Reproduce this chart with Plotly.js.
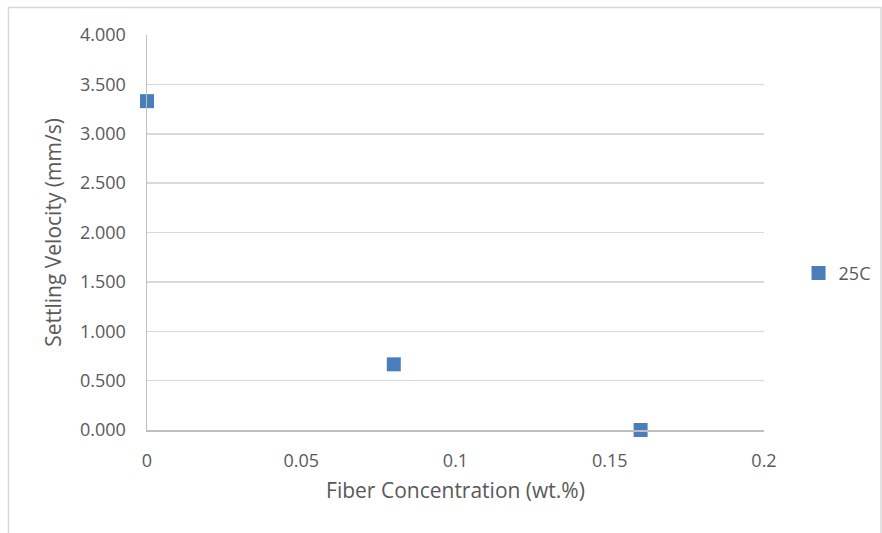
<!DOCTYPE html>
<html><head><meta charset="utf-8">
<script src="https://cdn.plot.ly/plotly-3.0.1.min.js"></script>
<style>html,body{margin:0;padding:0;background:#fff}</style>
</head><body>
<div id="chart" style="width:882px;height:533px"></div>
<script>
var fiberConcentration = [0, 0.08, 0.16];
var settlingVelocity = [3.33, 0.665, 0.0];
var seriesName = '25C';
var xTickVals = [0, 0.05, 0.1, 0.15, 0.2];
var yTickVals = [0, 0.5, 1.0, 1.5, 2.0, 2.5, 3.0, 3.5, 4.0];

var fontFam = 'Open Sans, sans-serif';
var txt = '#595959';
var trace = {
  x: fiberConcentration, y: settlingVelocity, name: seriesName,
  type: 'scatter', mode: 'markers', cliponaxis: false,
  marker: {symbol: 'square', size: 14, color: '#4a7ebb', line: {width: 0}}
};
var layout = {
  width: 882, height: 533,
  margin: {l: 147, r: 118, t: 35, b: 103, autoexpand: false},
  paper_bgcolor: '#fff', plot_bgcolor: '#fff',
  font: {family: fontFam, color: txt, size: 18},
  showlegend: true,
  legend: {x: 1.056, y: 0.397, xanchor: 'left', yanchor: 'middle', font: {size: 18, color: txt}, itemwidth: 30},
  xaxis: {
    range: [0, 0.2], tickvals: xTickVals, ticktext: xTickVals.map(String),
    showgrid: false, zeroline: false, showline: true, linecolor: '#bfbfbf', linewidth: 1.5,
    ticks: 'outside', ticklen: 14, tickcolor: 'rgba(0,0,0,0)',
    tickfont: {size: 18, color: txt},
    title: {text: 'Fiber Concentration (wt.%)', font: {size: 21, color: txt}, standoff: 12}
  },
  yaxis: {
    range: [0, 4], tickvals: yTickVals, tickformat: '.3f',
    showgrid: true, gridcolor: '#d9d9d9', gridwidth: 1.5, zeroline: false,
    showline: true, linecolor: '#bfbfbf', linewidth: 1.5,
    ticks: 'outside', ticklen: 16, tickcolor: 'rgba(0,0,0,0)',
    tickfont: {size: 18, color: txt},
    title: {text: 'Settling Velocity (mm/s)', font: {size: 21, color: txt}, standoff: 12}
  },
  shapes: [{
    type: 'rect', xref: 'paper', yref: 'paper',
    x0: (8.5 - 147) / 617, x1: (881 - 147) / 617,
    y0: (430 - 560) / 395, y1: (430 - 7.5) / 395,
    line: {color: '#d9d9d9', width: 1.5}, fillcolor: 'rgba(0,0,0,0)', layer: 'below'
  }]
};
Plotly.newPlot('chart', [trace], layout, {displayModeBar: false, staticPlot: true});
</script>
</body></html>
